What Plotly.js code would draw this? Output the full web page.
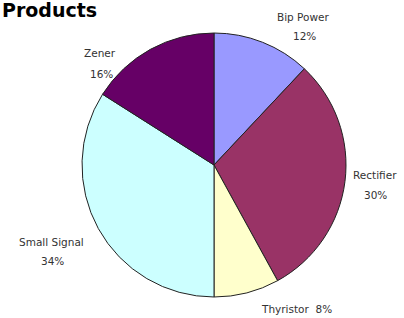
<!DOCTYPE html>
<html><head><meta charset="utf-8">
<script src="https://cdn.plot.ly/plotly-3.0.1.min.js"></script>
<style>html,body{margin:0;padding:0;background:#fff}#chart{width:404px;height:318px}</style>
</head><body><div id="chart"></div>
<script>
const categories = ["Bip Power", "Rectifier", "Thyristor", "Small Signal", "Zener"];
const values = [12, 30, 8, 34, 16];
const colors = ["#9999FF", "#993366", "#FFFFCC", "#CCFFFF", "#660066"];
const chartTitle = "Products";

// label placement (paper px) for each category: [nameX, nameY, pctX, pctY]
const labelPos = [
  [303, 17, 304, 36],
  [375, 175, 375, 195],
  [296, 309, null, null],
  [51, 242, 52, 261],
  [100, 53, 101, 74]
];
const W = 404, H = 318;
const total = values.reduce((a, b) => a + b, 0);
const annotations = [];
const fnt = {family: "DejaVu Sans, Verdana, sans-serif", size: 10.5, color: "#333"};
categories.forEach((c, i) => {
  const p = labelPos[i];
  const pct = Math.round(values[i] / total * 100) + "%";
  if (p[2] === null) {
    annotations.push({text: c + "  " + pct, x: p[0] / W, y: 1 - p[1] / H, xref: "paper", yref: "paper",
      showarrow: false, xanchor: "center", yanchor: "middle", font: fnt});
  } else {
    annotations.push({text: c, x: p[0] / W, y: 1 - p[1] / H, xref: "paper", yref: "paper",
      showarrow: false, xanchor: "center", yanchor: "middle", font: fnt});
    annotations.push({text: pct, x: p[2] / W, y: 1 - p[3] / H, xref: "paper", yref: "paper",
      showarrow: false, xanchor: "center", yanchor: "middle", font: fnt});
  }
});
annotations.push({text: "<b>" + chartTitle + "</b>", x: 0, y: 1 - 10 / H, xref: "paper", yref: "paper",
  showarrow: false, xanchor: "left", yanchor: "middle",
  font: {family: "DejaVu Sans, Arial, sans-serif", size: 19, color: "#000"}});

const data = [{
  type: "pie",
  labels: categories,
  values: values,
  sort: false,
  direction: "clockwise",
  rotation: 0,
  textinfo: "none",
  hoverinfo: "label+percent",
  marker: {colors: colors, line: {color: "#222", width: 1}},
  domain: {x: [82 / W, 346 / W], y: [1 - 297 / H, 1 - 33 / H]}
}];
const layout = {
  width: W, height: H,
  margin: {l: 0, r: 0, t: 0, b: 0},
  paper_bgcolor: "#fff",
  showlegend: false,
  annotations: annotations
};
Plotly.newPlot("chart", data, layout, {displayModeBar: false, staticPlot: true});
</script></body></html>
